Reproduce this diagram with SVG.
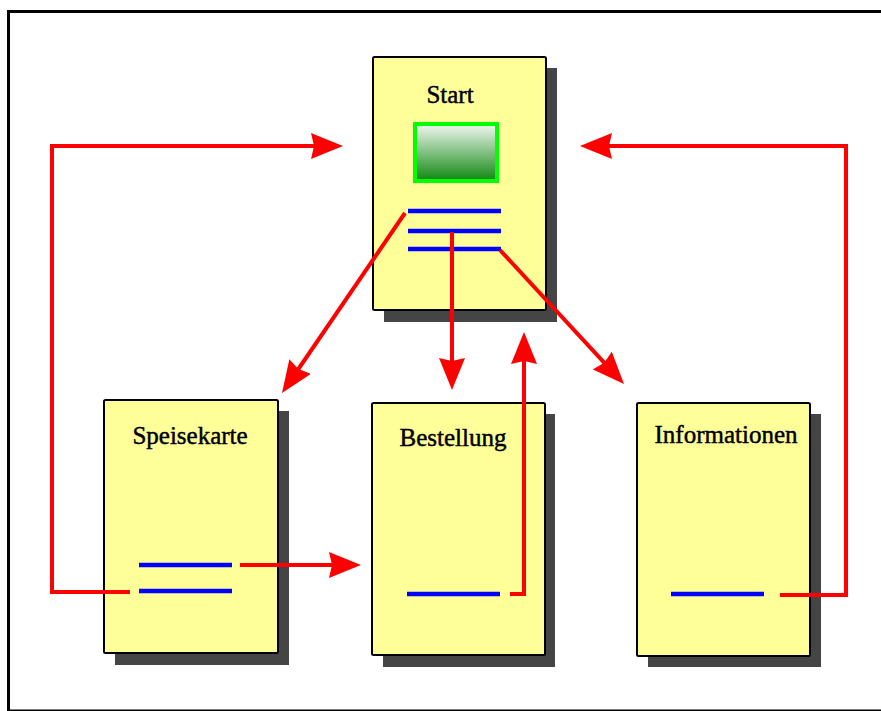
<svg xmlns="http://www.w3.org/2000/svg" width="881" height="711" viewBox="0 0 881 711">
  <style>
    .page { fill: #ffff99; stroke: #000; stroke-width: 2; }
    .shadow { fill: #454545; }
    .title { font-family: "Liberation Serif", "Times New Roman", serif; font-size: 25px; fill: #000; stroke: #000; stroke-width: 0.45; text-anchor: middle; }
    .link { stroke: #0000ff; stroke-width: 4.5; fill: none; }
    .flow { stroke: #ff0000; stroke-width: 4; fill: none; marker-end: url(#head); }
  </style>
  <defs>
    <marker id="head" markerUnits="userSpaceOnUse" viewBox="0 0 32 26" markerWidth="32" markerHeight="26" refX="12" refY="13" orient="auto">
      <path d="M0,0 L32,13 L0,26 L3,13 Z" fill="#ff0000"/>
    </marker>
    <linearGradient id="screen" x1="0" y1="0" x2="0" y2="1">
      <stop offset="0" stop-color="#f2f8f2"/>
      <stop offset="1" stop-color="#0f870f"/>
    </linearGradient>
  </defs>

  <rect width="881" height="711" fill="#fff"/>
  <!-- outer frame -->
  <rect x="8.5" y="11.5" width="900" height="699.5" fill="none" stroke="#000" stroke-width="3"/>

  <g id="start">
    <rect class="shadow" x="384" y="68" width="173" height="254"/>
    <rect class="page" x="373" y="57" width="173" height="253" rx="1.5"/>
    <text class="title" x="450" y="103">Start</text>
    <rect x="415" y="124" width="82" height="57" fill="url(#screen)" stroke="#00ff00" stroke-width="4"/>
    <line class="link" x1="408" y1="211" x2="501" y2="211"/>
    <line class="link" x1="408" y1="231" x2="501" y2="231"/>
    <line class="link" x1="408" y1="249" x2="501" y2="249"/>
  </g>

  <g id="speisekarte">
    <rect class="shadow" x="115" y="411" width="174" height="254"/>
    <rect class="page" x="104" y="400" width="174" height="253" rx="1.5"/>
    <text class="title" x="190" y="444">Speisekarte</text>
    <line class="link" x1="139" y1="565" x2="232" y2="565"/>
    <line class="link" x1="139" y1="591" x2="232" y2="591"/>
  </g>

  <g id="bestellung">
    <rect class="shadow" x="383" y="414" width="172" height="253"/>
    <rect class="page" x="372" y="403" width="173" height="252" rx="1.5"/>
    <text class="title" x="453" y="446">Bestellung</text>
    <line class="link" x1="407" y1="594" x2="500" y2="594"/>
  </g>

  <g id="informationen">
    <rect class="shadow" x="648" y="414" width="173" height="253"/>
    <rect class="page" x="637" y="403" width="173" height="253" rx="1.5"/>
    <text class="title" x="726" y="443">Informationen</text>
    <line class="link" x1="671" y1="594" x2="764" y2="594"/>
  </g>

  <g id="connectors">
    <path class="flow" d="M405,213 L293.3,376.5"/>
    <path class="flow" d="M452,232 L452,370"/>
    <path class="flow" d="M500,250 L610.4,369.3"/>
    <path class="flow" d="M510,594 H524 V352"/>
    <path class="flow" d="M240,565 H341"/>
    <path class="flow" d="M130,592 H52 V146 H323"/>
    <path class="flow" d="M780,595 H846 V146 H600"/>
  </g>
</svg>
